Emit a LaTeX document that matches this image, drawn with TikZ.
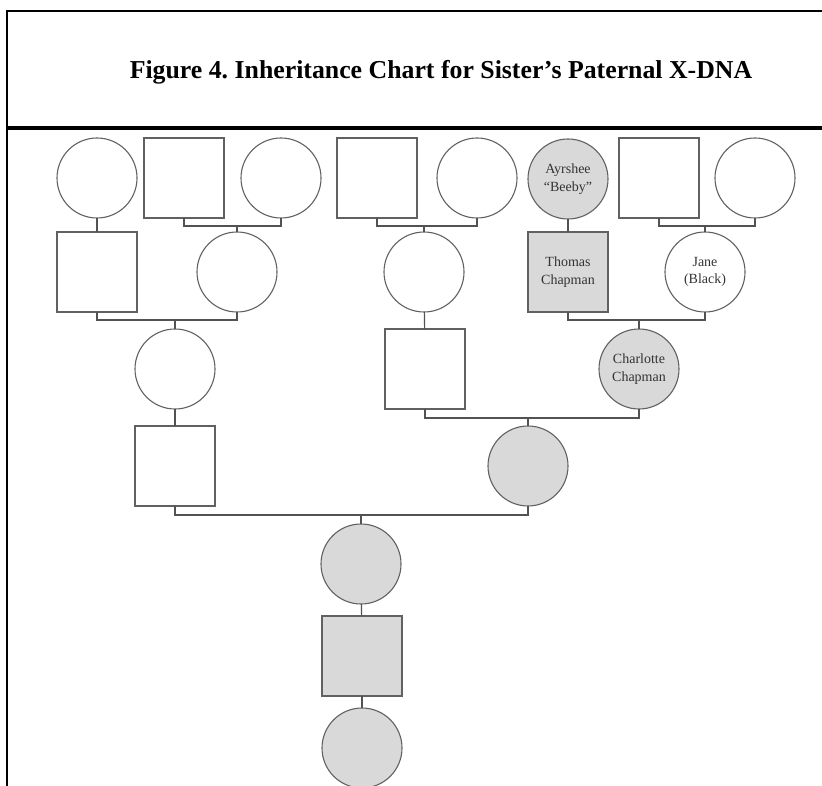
\documentclass[tikz,border=0pt]{standalone}
\usepackage{fontspec}
\setmainfont{Liberation Serif}
\frenchspacing
\begin{document}
\begin{tikzpicture}[x=1pt,y=-1pt,
  person/.style={draw=black!62,line width=1.1pt,inner sep=0pt,outer sep=0pt,
    text=black!80,font=\fontsize{14}{17.5}\selectfont,align=center},
  fem/.style={person,circle,minimum size=80pt},
  mal/.style={person,rectangle,minimum width=80pt,minimum height=80pt},
  hit/.style={fill=black!15},
  link/.style={draw=black!68,line width=1.1pt}]
\useasboundingbox (0,0) rectangle (822,786);
% frame
\draw[line width=2pt] (7,787) -- (7,11) -- (823,11);
\draw[line width=4pt] (7,128.5) -- (823,128.5);
\node[anchor=base,font=\fontsize{25.8}{30}\selectfont\bfseries] (title) at (441,79)
  {Figure 4. Inheritance Chart for Sister’s Paternal X-DNA};
% row 1
\node[fem] (c1) at (97,178) {};
\node[mal] (s1) at (184,178) {};
\node[fem] (c2) at (281,178) {};
\node[mal] (s2) at (377,178) {};
\node[fem] (c3) at (477,178) {};
\node[fem,hit] (c4) at (568,179) {Ayrshee\\“Beeby”};
\node[mal] (s3) at (659,178) {};
\node[fem] (c5) at (755,178) {};
% row 2
\node[mal] (s4) at (97,272) {};
\node[fem] (c6) at (237,272) {};
\node[fem] (c7) at (424,272) {};
\node[mal,hit] (s5) at (568,272) {Thomas\\Chapman};
\node[fem] (c8) at (705,272) {Jane\\(Black)};
% row 3
\node[fem] (c9) at (175,369) {};
\node[mal] (s6) at (425,369) {};
\node[fem,hit] (c10) at (639,369) {Charlotte\\Chapman};
% row 4
\node[mal] (s7) at (175,466) {};
\node[fem,hit] (c11) at (528,466) {};
% rows 5-7
\node[fem,hit] (c12) at (361,564) {};
\node[mal,hit] (s8) at (362,656) {};
\node[fem,hit] (c13) at (362,748) {};
% connectors
\draw[link] (c1) -- (s4);
\draw[link] (s1.south) -- ++(0,8) coordinate (b1) -| (c2.south);
\draw[link] (c6.north) -- (c6.north |- b1);
\draw[link] (s2.south) -- ++(0,8) coordinate (b2) -| (c3.south);
\draw[link] (c7.north) -- (c7.north |- b2);
\draw[link] (c4) -- (s5);
\draw[link] (s3.south) -- ++(0,8) coordinate (b3) -| (c5.south);
\draw[link] (c8.north) -- (c8.north |- b3);
\draw[link] (s4.south) -- ++(0,8) coordinate (b4) -| (c6.south);
\draw[link] (c9.north) -- (c9.north |- b4);
\draw[link] (c7) -- (s6);
\draw[link] (s5.south) -- ++(0,8) coordinate (b5) -| (c8.south);
\draw[link] (c10.north) -- (c10.north |- b5);
\draw[link] (c9) -- (s7);
\draw[link] (s6.south) -- ++(0,9) coordinate (b6) -| (c10.south);
\draw[link] (c11.north) -- (c11.north |- b6);
\draw[link] (s7.south) -- ++(0,9) coordinate (b7) -| (c11.south);
\draw[link] (c12.north) -- (c12.north |- b7);
\draw[link] (c12) -- (s8);
\draw[link] (s8) -- (c13);
\end{tikzpicture}
\end{document}
